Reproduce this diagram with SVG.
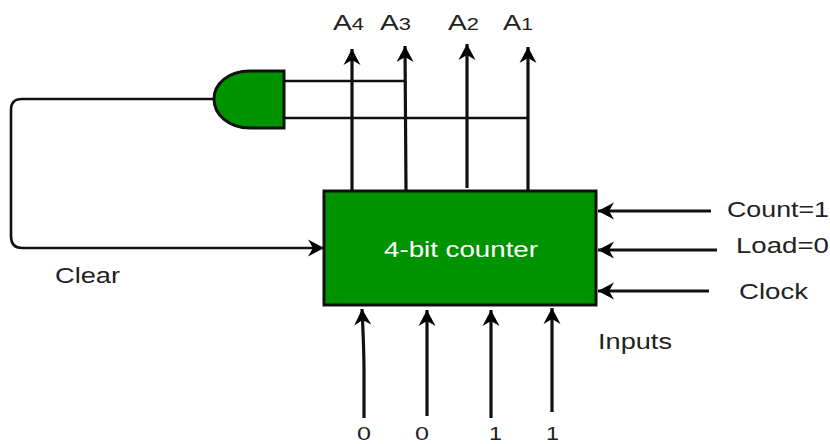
<svg xmlns="http://www.w3.org/2000/svg" width="830" height="444" viewBox="0 0 830 444">
<defs>
<marker id="a" markerUnits="userSpaceOnUse" markerWidth="20" markerHeight="20" refX="17" refY="10" orient="auto"><path d="M1 1.5 L17 10 L1 18.5 L6 10 Z" fill="#000"/></marker>
</defs>
<style>
.c{fill:none;stroke:#111;stroke-width:3.2}
.t{stroke:#111;stroke-width:2.6;fill:none}
text{font-family:"Liberation Sans",Arial,sans-serif;font-size:22px;fill:#222}
</style>
<rect width="830" height="444" fill="#fff"/>
<g id="connectors">
<path class="t" d="M284 81H405M284 118H528"/>
<path class="c" d="M352 190V49" marker-end="url(#a)"/>
<path class="c" d="M406 190L405 46" marker-end="url(#a)"/>
<path class="c" d="M467 188V44" marker-end="url(#a)"/>
<path class="c" d="M528 190V47" marker-end="url(#a)"/>
<path class="t" d="M214 99H22Q11 99 11 110V236Q11 248 22 248H324" marker-end="url(#a)"/>
<path class="c" d="M711 211H598" marker-end="url(#a)"/>
<path class="c" d="M717 250H598" marker-end="url(#a)"/>
<path class="c" d="M709 291H598" marker-end="url(#a)"/>
<path class="c" d="M364 418V370Q364 350 362 309" marker-end="url(#a)"/>
<path class="c" d="M427 416V310" marker-end="url(#a)"/>
<path class="c" d="M491 418V310" marker-end="url(#a)"/>
<path class="c" d="M552 412V308" marker-end="url(#a)"/>
</g>
<g id="and-gate"><path d="M284 71H250C228 71 214 84 214 99C214 114 228 128 250 128H284Z" fill="#009300" stroke="#111" stroke-width="3"/></g>
<g id="counter"><rect x="324" y="191" width="272" height="114" fill="#009300" stroke="#111" stroke-width="3"/><text x="384" y="257" textLength="154" lengthAdjust="spacingAndGlyphs" style="fill:#fff">4-bit counter</text></g>
<g id="labels">
<text x="333" y="30" textLength="31" lengthAdjust="spacingAndGlyphs">A<tspan font-size="17">4</tspan></text>
<text x="380" y="30" textLength="31" lengthAdjust="spacingAndGlyphs">A<tspan font-size="17">3</tspan></text>
<text x="448" y="30" textLength="31" lengthAdjust="spacingAndGlyphs">A<tspan font-size="17">2</tspan></text>
<text x="503" y="30" textLength="30" lengthAdjust="spacingAndGlyphs">A<tspan font-size="17">1</tspan></text>
<text x="727" y="217" textLength="102" lengthAdjust="spacingAndGlyphs">Count=1</text>
<text x="736" y="253" textLength="93" lengthAdjust="spacingAndGlyphs">Load=0</text>
<text x="739" y="299" textLength="69" lengthAdjust="spacingAndGlyphs">Clock</text>
<text x="55" y="283" textLength="65" lengthAdjust="spacingAndGlyphs">Clear</text>
<text x="598" y="349" textLength="74" lengthAdjust="spacingAndGlyphs">Inputs</text>
<text x="357" y="440" style="font-size:18px" textLength="14" lengthAdjust="spacingAndGlyphs">0</text>
<text x="415" y="440" style="font-size:18px" textLength="14" lengthAdjust="spacingAndGlyphs">0</text>
<text x="489" y="440" style="font-size:18px" textLength="13" lengthAdjust="spacingAndGlyphs">1</text>
<text x="546" y="440" style="font-size:18px" textLength="13" lengthAdjust="spacingAndGlyphs">1</text>
</g>
</svg>
